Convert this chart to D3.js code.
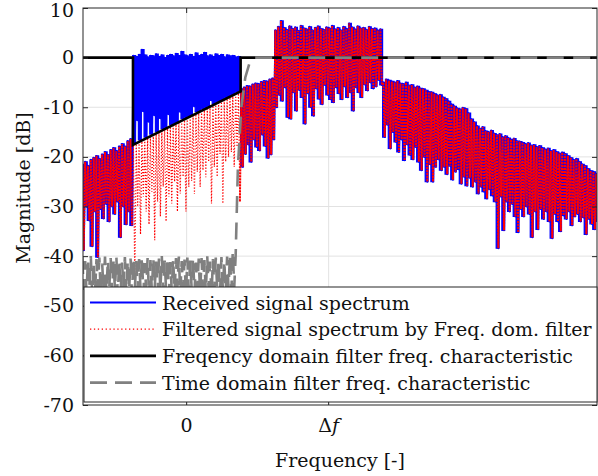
<!DOCTYPE html>
<html>
<head>
<meta charset="utf-8">
<title>Spectrum</title>
<script src="https://d3js.org/d3.v7.min.js"></script>
<style>
  body { margin: 0; background: #fff; }
</style>
</head>
<body>
<svg width="598" height="476"></svg>
<script>
    const width = 598;
    const height = 476;
    const freqStep = 0.02;

    // received spectrum, upper / lower envelope per frequency bin (dB)
    const recvTopLeft = [-21.5,-21.0,-21.8,-20.6,-20.2,-19.8,-20.4,-19.5,-19.0,-19.6,-18.6,-18.2,-18.8,-17.9,-17.4,-17.9,-16.8,-16.4];
    const recvBotLeft = [-38.8,-30.0,-32.8,-38.0,-31.0,-40.2,-30.5,-32.4,-29.5,-33.0,-30.0,-31.5,-29.0,-36.2,-30.0,-33.6,-31.0,-33.8];
    const recvTopPass = [0.4,0.2,0.6,1.6,0.5,0.1,0.4,0.3,0.7,0.2,0.5,0.0,0.4,0.6,0.3,0.8,0.4,1.2,0.5,0.3,
                         0.6,0.2,0.9,0.4,0.6,1.0,0.3,0.5,0.2,0.7,0.4,0.6,0.1,0.5,0.3,0.4,0.1,0.2];
    const recvBotPass = [-17.1,-12.6,-16.6,-10.8,-16.0,-12.9,-15.4,-11.6,-14.9,-12.2,-14.3,-14.0,-11.4,-13.5,-13.2,-12.9,-10.9,-12.3,-12.0,-11.8,
                         -11.5,-9.8,-10.9,-10.6,-10.3,-10.1,-9.8,-8.6,-9.2,-8.9,-8.6,-8.4,-8.1,-7.8,-7.5,-7.2,-6.9,-6.6];
    const recvTopGap = [-6.3,-6.0,-5.7,-5.8,-5.4,-5.2,-5.3,-4.9,-4.7,-4.8,-4.4,-4.2];
    const recvBotGap = [-22.0,-19.4,-17.5,-21.0,-16.5,-18.0,-18.7,-15.5,-17.8,-20.2,-19.5,-16.5];
    const recvTopBand = [5.5,6.2,7.4,6.0,5.6,6.3,5.8,6.1,5.4,6.4,5.9,5.7,6.2,5.5,6.0,6.3,5.8,5.6,6.1,5.9,
                         6.4,5.7,6.0,5.5,6.2,5.8,6.9,6.1,5.7,6.3,5.9,6.0,5.6,6.2,5.8,5.9,5.5,5.7];
    const recvBotBand = [-10.0,-7.5,-8.7,-6.0,-12.0,-12.3,-7.0,-10.7,-6.5,-8.0,-13.3,-7.2,-10.0,-11.7,-6.2,-8.3,-9.4,-5.5,-7.5,-8.4,
                         -9.0,-6.0,-7.2,-8.4,-5.8,-8.0,-7.0,-10.7,-6.0,-7.0,-8.0,-5.4,-6.6,-5.0,-6.2,-5.8,-4.5,-5.5];
    const recvTopTail = [-5.0,-4.4,-4.6,-4.8,-5.0,-4.7,-5.2,-5.3,-5.0,-5.6,-5.5,-6.0,-5.8,-6.2,-6.3,-6.6,-6.9,-7.0,-7.3,-7.6,
                         -7.5,-8.0,-8.3,-8.8,-9.4,-9.8,-10.2,-10.4,-10.1,-10.3,-11.2,-12.4,-13.0,-13.8,-14.3,-14.0,-14.8,-15.0,-14.7,-15.3,
                         -15.6,-15.4,-16.0,-15.8,-16.2,-16.5,-16.3,-16.8,-16.9,-17.1,-17.4,-17.2,-17.7,-17.6,-18.0,-17.8,-18.2,-18.5,-18.3,-18.8,
                         -18.6,-19.0,-19.3,-19.1,-19.4,-19.8,-20.2,-20.6,-20.4,-21.0,-21.5,-21.8,-22.4,-22.8,-23.0,-23.4];
    const recvBotTail = [-16.0,-13.5,-18.3,-15.0,-17.0,-19.0,-16.5,-20.7,-17.5,-19.6,-20.5,-18.0,-21.0,-22.7,-20.0,-25.0,-21.5,-25.0,-22.0,-20.5,
                         -22.7,-22.0,-23.5,-21.8,-24.6,-23.0,-22.5,-25.4,-24.0,-25.8,-24.2,-26.0,-25.0,-27.4,-26.0,-27.0,-28.4,-26.5,-27.8,-29.0,
                         -38.4,-28.0,-34.8,-29.0,-31.0,-29.5,-32.0,-35.2,-30.5,-32.0,-30.0,-31.5,-36.2,-31.0,-34.6,-30.5,-32.5,-31.0,-33.0,-36.4,
                         -31.5,-33.0,-35.0,-31.8,-32.5,-31.0,-33.8,-32.0,-31.5,-33.0,-32.2,-35.6,-32.5,-33.5,-34.6,-33.0];

    // filtered spectrum inside the pass band (elsewhere it equals the received one)
    const filtTopPass = [-17.6,-17.4,-17.0,-16.9,-16.5,-16.1,-16.0,-15.6,-15.4,-15.1,-14.8,-14.5,-14.3,-13.9,-13.7,-13.5,-13.1,-12.8,-12.6,-12.2,
                         -12.0,-11.7,-11.4,-11.2,-10.8,-10.6,-10.3,-10.0,-9.7,-9.5,-9.1,-8.9,-8.6,-8.3,-8.0,-7.8,-7.4,-7.2];
    const filtBotPass = [-45.0,-30.0,-35.6,-28.0,-31.0,-33.6,-27.0,-36.8,-29.0,-32.0,-26.0,-33.0,-28.0,-29.4,-25.0,-31.0,-27.4,-24.0,-31.0,-26.0,
                         -24.8,-27.5,-23.0,-26.0,-22.7,-24.1,-21.0,-29.4,-22.0,-24.0,-19.4,-29.4,-21.0,-20.0,-19.0,-22.0,-18.0,-29.0];

    // frequency domain filter characteristic
    const fdFilterFreq = [-0.73, -0.378, -0.378, 0.38, 0.38, 2.89];
    const fdFilterDb = [0, 0, -17.6, -6.8, 0, 0];

    // time domain filter characteristic: noisy floor then the rise to 0 dB
    const tdFloorTop = [-40.2,-41.0,-40.5,-40.0,-41.2,-40.6,-40.3,-41.5,-40.1,-40.8,-40.4,-41.1,-40.0,-40.7,-41.3,-40.2,-40.9,-40.5,-40.3,-41.0,
                        -40.6,-40.1,-41.4,-40.4,-40.8,-40.2,-41.1,-40.5,-40.0,-40.9,-40.3,-41.2,-40.6,-40.4,-40.1,-41.0,-40.7,-40.3,-40.9,-40.2,
                        -41.3,-40.5,-40.4,-40.8,-40.0,-41.1,-40.6,-40.3,-40.7,-40.2,-40.9,-40.1,-39.6,-38.9];
    const tdFloorBot = [-46.8,-47.5,-46.2,-48.0,-47.1,-46.5,-47.8,-46.9,-47.3,-46.4,-47.6,-46.7,-48.1,-47.0,-46.3,-47.4,-46.8,-47.9,-46.6,-47.2,
                        -46.5,-47.7,-46.9,-48.0,-47.1,-46.4,-47.5,-46.8,-47.3,-46.6,-47.8,-46.9,-47.2,-46.5,-47.6,-46.7,-47.9,-47.0,-46.4,-47.4,
                        -46.8,-47.7,-46.6,-47.2,-46.9,-48.0,-47.1,-46.5,-47.5,-46.8,-47.3,-46.6,-47.0,-46.4];
    const tdRampFreq = [0.345, 0.361, 0.385, 0.413, 0.444, 0.48, 2.89];
    const tdRampDb = [-40, -22, -10, -4, -1, 0, 0];

    const yTicks = [-70, -60, -50, -40, -30, -20, -10, 0, 10];
    const xTickVals = [0, 1];
    const legendLabels = [
        "Received signal spectrum",
        "Filtered signal spectrum by Freq. dom. filter",
        "Freqency domain filter freq. characteristic",
        "Time domain filter freq. characteristic"
    ];

    // pick the first face that is really installed
    function pickFont(cands) {
        const ctx = document.createElement("canvas").getContext("2d");
        const s = "Magnitude Frequency [dB] 0123456789";
        ctx.font = "40px monospace";
        const base = ctx.measureText(s).width;
        for (const f of cands) {
            ctx.font = `40px "${f}", monospace`;
            if (Math.abs(ctx.measureText(s).width - base) > 0.5) return `"${f}"`;
        }
        return "sans-serif";
    }
    const fontFamily = pickFont(["DejaVu Serif", "Noto Serif", "DejaVu Sans", "Liberation Sans"]);

    const plotLeft = 83, plotRight = 597, plotTop = 8, plotBottom = 405;
    const x = d3.scaleLinear().domain([-0.73, 2.89]).range([plotLeft, plotRight]);
    const y = d3.scaleLinear().domain([-70, 10]).range([plotBottom, plotTop]);

    const svg = d3.select("svg").attr("font-family", fontFamily);

    svg.append("defs").append("clipPath").attr("id", "plotclip")
        .append("rect").attr("x", plotLeft).attr("y", plotTop)
        .attr("width", plotRight - plotLeft).attr("height", plotBottom - plotTop);

    // grid
    const grid = svg.append("g");
    grid.selectAll("line.h").data(yTicks.slice(1, -1)).join("line")
        .attr("x1", plotLeft).attr("x2", plotRight)
        .attr("y1", d => y(d)).attr("y2", d => y(d))
        .attr("stroke", "#e2e2e2").attr("stroke-width", 1);
    grid.selectAll("line.v").data(xTickVals).join("line")
        .attr("y1", plotTop).attr("y2", plotBottom)
        .attr("x1", d => x(d)).attr("x2", d => x(d))
        .attr("stroke", "#e2e2e2").attr("stroke-width", 1);

    // dense spectrum drawn as a zigzag between envelope values of each bin
    function zigzag(f0, tops, bots) {
        const pts = [];
        tops.forEach((t, i) => {
            const f = f0 + i * freqStep;
            pts.push([f - freqStep / 4, t]);
            pts.push([f + freqStep / 4, bots[i]]);
        });
        return pts;
    }
    function bins(f0, tops, bots) {
        return tops.map((t, i) => ({ f: f0 + i * freqStep, top: t, bot: bots[i] }));
    }

    const recvPts = [].concat(
        zigzag(-0.73, recvTopLeft, recvBotLeft),
        zigzag(-0.37, recvTopPass, recvBotPass),
        zigzag(0.39, recvTopGap, recvBotGap),
        zigzag(0.63, recvTopBand, recvBotBand),
        zigzag(1.39, recvTopTail, recvBotTail)
    );
    const recvBins = [].concat(
        bins(-0.73, recvTopLeft, recvBotLeft),
        bins(-0.37, recvTopPass, recvBotPass),
        bins(0.39, recvTopGap, recvBotGap),
        bins(0.63, recvTopBand, recvBotBand),
        bins(1.39, recvTopTail, recvBotTail)
    );
    // filtered spectrum: outer parts (same as received) and the pass band part
    const filtLeftPts = zigzag(-0.73, recvTopLeft, recvBotLeft);
    const filtPassPts = [filtLeftPts[filtLeftPts.length - 1]].concat(
        zigzag(-0.37, filtTopPass, filtBotPass));
    const filtRightPts = [filtPassPts[filtPassPts.length - 1]].concat(
        zigzag(0.39, recvTopGap, recvBotGap),
        zigzag(0.63, recvTopBand, recvBotBand),
        zigzag(1.39, recvTopTail, recvBotTail)
    );
    const fdPts = fdFilterFreq.map((f, i) => [f, fdFilterDb[i]]);
    const tdPts = zigzag(-0.73, tdFloorTop, tdFloorBot)
        .concat(tdRampFreq.map((f, i) => [f, tdRampDb[i]]));

    const line = d3.line().x(d => x(d[0])).y(d => y(d[1]));
    const band = d3.area().curve(d3.curveStep)
        .x(d => x(d.f)).y0(d => y(d.bot)).y1(d => y(d.top));

    const plot = svg.append("g").attr("clip-path", "url(#plotclip)");
    plot.append("path").attr("d", band(recvBins))
        .attr("fill", "#0000ff").attr("stroke", "#0000ff").attr("stroke-width", 1.2);
    plot.append("path").attr("d", line(recvPts))
        .attr("fill", "none").attr("stroke", "#0000ff").attr("stroke-width", 2)
        .attr("stroke-linejoin", "round");
    [filtLeftPts, filtRightPts].forEach(pts => {
        plot.append("path").attr("d", line(pts))
            .attr("fill", "none").attr("stroke", "#ff0000").attr("stroke-width", 2)
            .attr("stroke-dasharray", "2.2,0.8");
    });
    plot.append("path").attr("d", line(filtPassPts))
        .attr("fill", "none").attr("stroke", "#ff0000").attr("stroke-width", 1.2)
        .attr("stroke-dasharray", "1.2,1.8");
    plot.append("path").attr("d", line(fdPts))
        .attr("fill", "none").attr("stroke", "#000").attr("stroke-width", 2.6);
    plot.append("path").attr("d", line(tdPts))
        .attr("fill", "none").attr("stroke", "#808080").attr("stroke-width", 2.6)
        .attr("stroke-dasharray", "17,9.5");

    // axes box and ticks
    const axisColor = "#262626";
    svg.append("rect").attr("x", plotLeft).attr("y", plotTop)
        .attr("width", plotRight - plotLeft).attr("height", plotBottom - plotTop)
        .attr("fill", "none").attr("stroke", axisColor).attr("stroke-width", 1);

    const yAxis = svg.append("g").attr("transform", `translate(${plotLeft},0)`)
        .call(d3.axisLeft(y).tickValues(yTicks).tickSize(-5).tickPadding(9)
            .tickFormat(d => d < 0 ? "-" + Math.abs(d) : String(d)));
    yAxis.select(".domain").remove();
    yAxis.attr("font-family", fontFamily);
    yAxis.selectAll("line").attr("stroke", axisColor);
    yAxis.selectAll("text").attr("class", "lbl").attr("fill", "#111")
        .attr("dy", d => d === 10 ? "0.45em" : "0.32em");

    const yAxisR = svg.append("g").attr("transform", `translate(${plotRight},0)`)
        .call(d3.axisRight(y).tickValues(yTicks).tickSize(-5).tickFormat(""));
    yAxisR.select(".domain").remove();
    yAxisR.selectAll("line").attr("stroke", axisColor);

    [plotBottom, plotTop].forEach(py => {
        svg.append("g").selectAll("line").data(xTickVals).join("line")
            .attr("x1", d => x(d)).attr("x2", d => x(d))
            .attr("y1", py).attr("y2", py === plotBottom ? py - 5 : py + 5)
            .attr("stroke", axisColor);
    });

    // legend (drawn over the lower part of the axes)
    const legend = svg.append("g");
    legend.append("rect").attr("x", 84).attr("y", 287).attr("width", plotRight - 84).attr("height", 115)
        .attr("fill", "#fff").attr("stroke", axisColor).attr("stroke-width", 1);
    const legendStyles = [
        { color: "#0000ff", width: 2, dash: null },
        { color: "#ff0000", width: 1.3, dash: "1.3,2.6" },
        { color: "#000", width: 2.6, dash: null },
        { color: "#808080", width: 2.6, dash: "17,8" }
    ];
    const legendTexts = [];
    legendLabels.forEach((label, i) => {
        const ly = 302.5 + i * 26.7;
        const s = legendStyles[i];
        legend.append("line").attr("x1", 90).attr("x2", 156).attr("y1", ly).attr("y2", ly)
            .attr("stroke", s.color).attr("stroke-width", s.width)
            .attr("stroke-dasharray", s.dash);
        legendTexts.push(legend.append("text").attr("class", "lbl").attr("x", 162).attr("y", ly + 7).text(label));
    });

    // x tick labels
    const xl = svg.append("g");
    xl.append("text").attr("class", "lbl").attr("x", x(0)).attr("y", 432).attr("text-anchor", "middle").text("0");
    const df = xl.append("text").attr("class", "lbl").attr("x", x(1)).attr("y", 432).attr("text-anchor", "middle");
    df.append("tspan").text("Δ");
    df.append("tspan").attr("font-style", "italic").text("f");

    // axis labels
    svg.append("text").attr("class", "lbl").attr("x", (plotLeft + plotRight) / 2).attr("y", 467)
        .attr("text-anchor", "middle").text("Frequency [-]");
    svg.append("text").attr("class", "lbl").attr("transform", "translate(30,188) rotate(-90)")
        .attr("text-anchor", "middle").text("Magnitude [dB]");

    // size all text so the longest legend entry spans the same width as in the figure
    svg.selectAll("text.lbl").attr("font-size", 20).attr("fill", "#111");
    const longest = legendTexts[1].node().getComputedTextLength();
    const fs = Math.max(16, Math.min(22, 20 * 430 / longest));
    svg.selectAll("text.lbl").attr("font-size", fs);
</script>
</body>
</html>
